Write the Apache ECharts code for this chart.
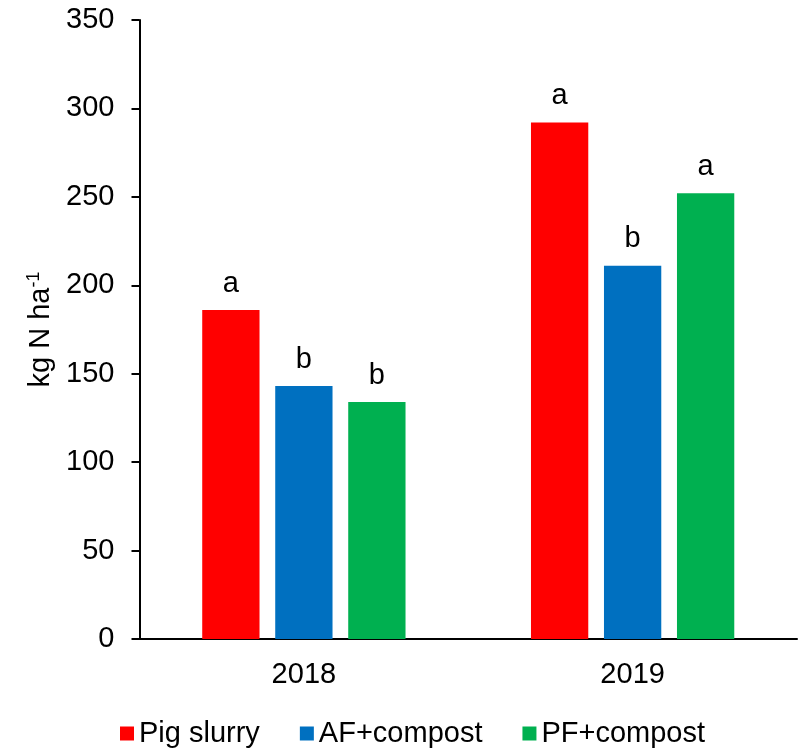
<!DOCTYPE html>
<html>
<head>
<meta charset="utf-8">
<script src="https://cdn.jsdelivr.net/npm/echarts@6/dist/echarts.min.js"></script>
<style>
  html, body { margin: 0; padding: 0; background: #fff; }
  #chart { width: 805px; height: 749px; }
</style>
</head>
<body>
<div id="chart"></div>
<script>
// Nitrogen applied per treatment and year
const years = ['2018', '2019'];
const seriesNames = ['Pig slurry', 'AF+compost', 'PF+compost'];
const pigSlurry = [186, 292];
const afCompost = [143, 211];
const pfCompost = [134, 252];
// Letters from the mean-separation test, one per bar
const pigLetters = ['a', 'a'];
const afLetters = ['b', 'b'];
const pfLetters = ['b', 'a'];
const colors = ['#FF0000', '#0070C0', '#00B050'];

const FONT = 'Liberation Sans, Arial, sans-serif';
const FS = 29;

function makeSeries(name, values, letters, color) {
  return {
    name: name,
    type: 'bar',
    data: values,
    barWidth: 57.3,
    barGap: '27.4%',
    itemStyle: { color: color },
    label: {
      show: true,
      position: 'top',
      distance: 12,
      color: '#000',
      fontFamily: FONT,
      fontSize: FS,
      formatter: p => letters[p.dataIndex]
    }
  };
}

const chart = echarts.init(document.getElementById('chart'), null, { renderer: 'canvas' });
chart.setOption({
  animation: false,
  backgroundColor: '#fff',
  textStyle: { fontFamily: FONT, color: '#000' },
  color: colors,
  grid: { left: 139.5, right: 8, top: 20, bottom: 110, containLabel: false },
  legend: {
    data: seriesNames,
    left: 120,
    top: 719,
    padding: 0,
    icon: 'rect',
    itemWidth: 14,
    itemHeight: 14,
    itemGap: 40,
    textStyle: { fontFamily: FONT, fontSize: FS, color: '#000', lineHeight: 29 }
  },
  xAxis: {
    type: 'category',
    data: years,
    axisLine: { lineStyle: { color: '#000', width: 2 } },
    axisTick: { show: false },
    axisLabel: { color: '#000', fontFamily: FONT, fontSize: FS, margin: 21 },
    splitLine: { show: false }
  },
  yAxis: {
    type: 'value',
    min: 0,
    max: 350,
    interval: 50,
    name: '{main|kg N ha}{sup|-1}',
    nameLocation: 'middle',
    nameGap: 81,
    nameRotate: 90,
    nameTextStyle: {
      rich: {
        main: { fontFamily: FONT, fontSize: FS, color: '#000', lineHeight: 31 },
        sup: { fontFamily: FONT, fontSize: 18, color: '#000', verticalAlign: 'top', lineHeight: 31 }
      }
    },
    axisLine: { show: true, lineStyle: { color: '#000', width: 2 } },
    axisTick: { show: true, length: 8, lineStyle: { color: '#000', width: 2 } },
    axisLabel: { color: '#000', fontFamily: FONT, fontSize: FS, margin: 25 },
    splitLine: { show: false }
  },
  series: [
    makeSeries(seriesNames[0], pigSlurry, pigLetters, colors[0]),
    makeSeries(seriesNames[1], afCompost, afLetters, colors[1]),
    makeSeries(seriesNames[2], pfCompost, pfLetters, colors[2])
  ]
});
</script>
</body>
</html>
